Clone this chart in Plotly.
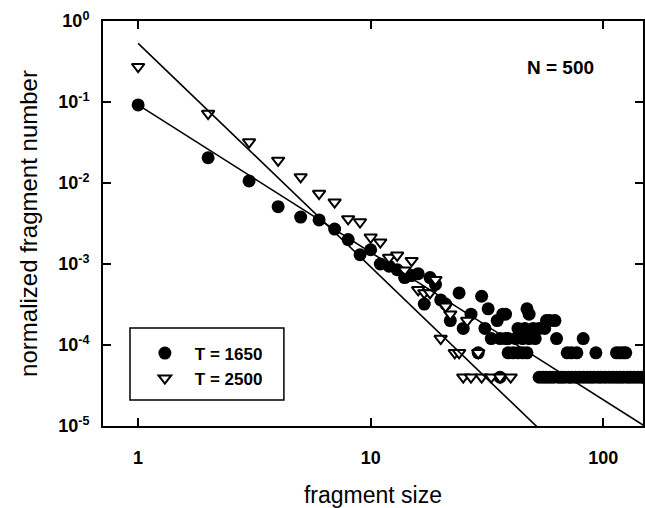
import plotly.graph_objects as go

# fragment size distribution, N = 500
# T = 1650 (filled circles)
size_1650 = [1, 2, 3, 4, 5, 6, 7, 8, 9, 10, 11, 12, 13, 14, 15, 16, 17, 18, 19, 20,
             21, 22, 24, 25, 27, 29, 30, 31, 32, 33, 35, 36, 37, 38,
             38, 48, 47,
             57, 59, 62,
             43, 46, 50, 53, 56,
             36, 39, 42, 45, 48, 51, 63, 82,
             39, 41, 43, 45, 47, 70, 73, 77, 93, 114, 118, 122, 125,
             53, 55, 57, 59, 61, 64, 66, 68, 71, 73, 76, 79, 82, 85, 88, 91, 95, 98,
             102, 106, 110, 114, 118, 122, 127, 131, 136, 141, 146, 150]
num_1650 = [0.092, 0.0205, 0.0106, 0.0051, 0.0038, 0.0035, 0.0027, 0.0020, 0.0013, 0.0015,
            0.0010, 0.00094, 0.00085, 0.00068, 0.00072, 0.00076, 0.00032, 0.00068, 0.00056, 0.00036,
            0.00032, 0.0002, 0.00044, 0.00016, 0.00024, 0.00008, 0.0004, 0.00016, 0.00028, 0.00012,
            0.0002, 0.00004, 0.00024, 0.00012,
            0.00024, 0.00024, 0.00028,
            0.0002, 0.0002, 0.0002,
            0.00016, 0.00016, 0.00016, 0.00016, 0.00016,
            0.00012, 0.00012, 0.00012, 0.00012, 0.00012, 0.00012, 0.00012, 0.00012,
            0.00008, 0.00008, 0.00008, 0.00008, 0.00008, 0.00008, 0.00008, 0.00008, 0.00008,
            0.00008, 0.00008, 0.00008, 0.00008,
            0.00004, 0.00004, 0.00004, 0.00004, 0.00004, 0.00004, 0.00004, 0.00004, 0.00004,
            0.00004, 0.00004, 0.00004, 0.00004, 0.00004, 0.00004, 0.00004, 0.00004, 0.00004,
            0.00004, 0.00004, 0.00004, 0.00004, 0.00004, 0.00004, 0.00004, 0.00004, 0.00004,
            0.00004, 0.00004, 0.00004]

# T = 2500 (open triangles)
size_2500 = [1, 2, 3, 4, 5, 6, 7, 8, 9, 10, 11, 12, 13, 14, 15, 16, 17, 18, 19, 20,
             21, 22, 23, 24, 26, 29, 25, 27, 30, 33, 36, 40]
num_2500 = [0.273, 0.072, 0.032, 0.019, 0.0119, 0.0074, 0.0058, 0.0036, 0.0033, 0.00214,
            0.00186, 0.0012, 0.00128, 0.00084, 0.0011, 0.00048, 0.00044, 0.00044, 0.00064, 0.00012,
            0.0003, 0.00024, 0.00008, 0.00008, 0.0002, 0.00008, 0.00004, 0.00004, 0.00004, 0.00004,
            0.00004, 0.00004]

# power-law fits  n(s) = a * s^b
fit_1650 = (0.092, -1.82)
fit_2500 = (0.53, -2.76)
fit_range = [1, 150]

font_main = "Liberation Sans, Arial, sans-serif"

fig = go.Figure()

fig.add_trace(go.Scatter(
    x=size_1650, y=num_1650, mode="markers", name="T = 1650",
    marker=dict(symbol="circle", size=13, color="black", line=dict(width=0))))

fig.add_trace(go.Scatter(
    x=size_2500, y=num_2500, mode="markers", name="T = 2500",
    marker=dict(symbol="triangle-down", size=11, color="white",
                line=dict(width=2, color="black"))))

for a, b in (fit_1650, fit_2500):
    fig.add_trace(go.Scatter(
        x=fit_range, y=[a * s ** b for s in fit_range], mode="lines",
        line=dict(color="black", width=1.6), showlegend=False, hoverinfo="skip"))

ytick_vals = [1e-5, 1e-4, 1e-3, 1e-2, 1e-1, 1]
ytick_text = ["10<sup>-5</sup>", "10<sup>-4</sup>", "10<sup>-3</sup>",
              "10<sup>-2</sup>", "10<sup>-1</sup>", "10<sup>0</sup>"]

axis_common = dict(
    type="log", showline=True, linecolor="black", linewidth=2, mirror="ticks",
    ticks="inside", ticklen=8, tickwidth=1.6, tickcolor="black",
    showgrid=False, zeroline=False, automargin=False,
    tickfont=dict(family=font_main, size=18, color="black", weight="bold"),
)

fig.update_xaxes(
    **axis_common, range=[-0.151, 2.171],
    tickvals=[1, 10, 100], ticktext=["1", "10", "100"],
    ticklabelstandoff=14,
    title=dict(text="fragment size", standoff=20,
               font=dict(family=font_main, size=23, color="black")),
)
fig.update_yaxes(
    **axis_common, range=[-5, 0],
    tickvals=ytick_vals, ticktext=ytick_text,
    ticklabelstandoff=8,
    title=dict(text="normalized fragment number", standoff=14,
               font=dict(family=font_main, size=24, color="black")),
)

# legend box
fig.add_shape(type="rect", xref="paper", yref="paper",
              x0=0.05, x1=0.335, y0=0.064, y1=0.242,
              line=dict(color="black", width=1.5), fillcolor="white", layer="above")

fig.add_annotation(text="<b>N = 500</b>", xref="paper", yref="paper",
                   x=0.848, y=0.886, xanchor="center", yanchor="middle", showarrow=False,
                   font=dict(family=font_main, size=19, color="black"))

fig.update_layout(
    width=645, height=508,
    margin=dict(l=103, r=2, t=21, b=82),
    paper_bgcolor="white", plot_bgcolor="white",
    showlegend=True,
    legend=dict(x=0.059, y=0.148, xanchor="left", yanchor="middle",
                bgcolor="rgba(0,0,0,0)", borderwidth=0, itemwidth=50,
                font=dict(family=font_main, size=17, color="black", weight="bold")),
)

# page body has a default 8px margin; remove it so the figure fills the window
fig.write_html("out.html", config=dict(displayModeBar=False),
               post_script="document.body.style.margin='0';")
